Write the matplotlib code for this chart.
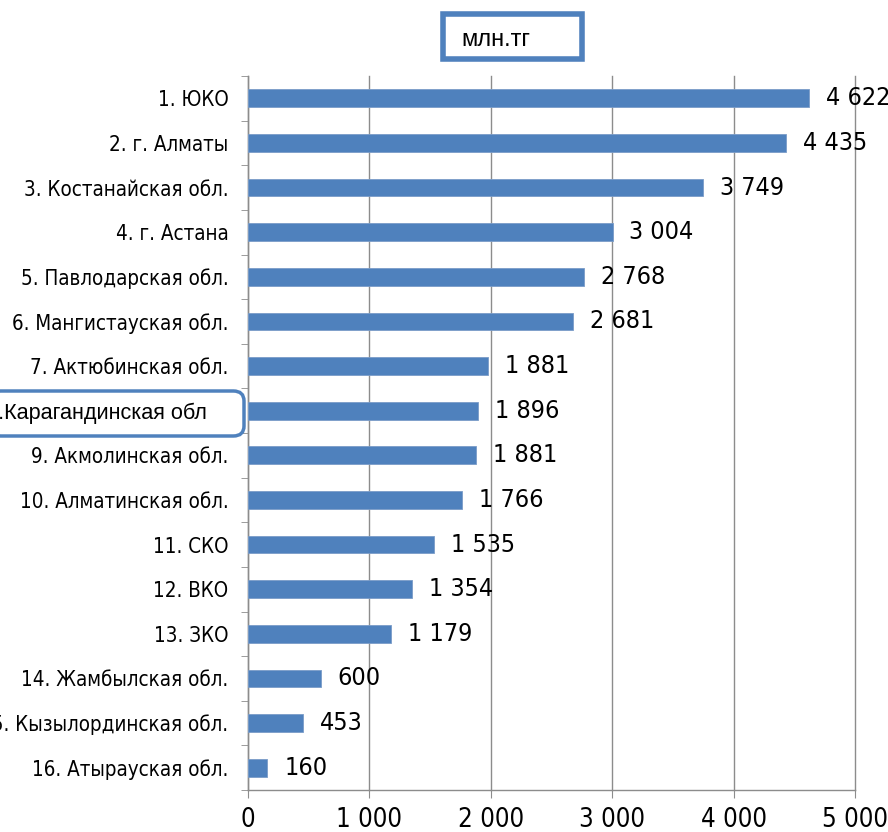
import matplotlib.pyplot as plt
from matplotlib.patches import FancyBboxPatch
from matplotlib.ticker import MultipleLocator, FuncFormatter
import numpy as np

regions = ['1. ЮКО', '2. г. Алматы', '3. Костанайская обл.', '4. г. Астана',
           '5. Павлодарская обл.', '6. Мангистауская обл.', '7. Актюбинская обл.',
           '8.Карагандинская обл', '9. Акмолинская обл.', '10. Алматинская обл.',
           '11. СКО', '12. ВКО', '13. ЗКО', '14. Жамбылская обл.',
           '15. Кызылординская обл.', '16. Атырауская обл.']
# bar lengths as drawn (bar 7 is drawn longer than its label says)
values = [4622, 4435, 3749, 3004, 2768, 2681, 1977, 1896, 1881, 1766,
          1535, 1354, 1179, 600, 453, 160]
value_labels = ['4 622', '4 435', '3 749', '3 004', '2 768', '2 681', '1 881',
                '1 896', '1 881', '1 766', '1 535', '1 354', '1 179', '600',
                '453', '160']
highlight = 7

narrow = dict(family='DejaVu Sans', fontstretch='condensed')
blue = '#4F81BD'
grid_c = '#8c8c8c'

fig = plt.figure(figsize=(8.88, 8.32), dpi=100)
ax = fig.add_axes([248/888, 1-790/832, 607/888, 714/832])

y = np.arange(len(regions))
ax.barh(y, values, height=0.4, color=blue, edgecolor='#7a9cc8', linewidth=0.6, zorder=3)
ax.set_ylim(len(regions)-0.5, -0.5)
ax.set_xlim(0, 5000)

for i, (v, lab) in enumerate(zip(values, value_labels)):
    ax.annotate(lab, (v, i), xytext=(12, 0), textcoords='offset points',
                va='center', ha='left', fontsize=18, zorder=4,
                annotation_clip=False, **narrow)

ax.xaxis.set_major_locator(MultipleLocator(1000))
ax.xaxis.set_major_formatter(FuncFormatter(lambda v, p: f'{int(v):,}'.replace(',', ' ')))
ax.grid(axis='x', color=grid_c, linewidth=1, zorder=0)
ax.set_axisbelow(True)
for gl in ax.get_xgridlines():
    gl.set_clip_on(False)

ax.set_yticks(y)
ax.set_yticklabels(['' if i == highlight else r for i, r in enumerate(regions)],
                   fontsize=14.8, **narrow)
ax.set_yticks(np.arange(-0.5, len(regions)), minor=True)
ax.tick_params(axis='y', which='major', length=0, pad=14)
ax.tick_params(axis='y', which='minor', length=5, color=grid_c, direction='out')
ax.tick_params(axis='x', length=6, color=grid_c, labelsize=18.5, pad=6)
for t in ax.get_xticklabels():
    t.set_family('DejaVu Sans')
    t.set_fontstretch('condensed')

for s in ['top', 'right']:
    ax.spines[s].set_visible(False)
for s in ['left', 'bottom']:
    ax.spines[s].set_color(grid_c)
    ax.spines[s].set_linewidth(1)

# highlighted label 8
box = FancyBboxPatch((-10/888, 1-436/832), 254/888, 45/832,
                     boxstyle='round,pad=0,rounding_size=0.012',
                     transform=fig.transFigure, facecolor='white',
                     edgecolor=blue, linewidth=2.5, zorder=5)
fig.patches.append(box)
fig.text(207/888, 1-413/832, regions[highlight], ha='right', va='center',
         fontsize=15.6, family=['Liberation Sans', 'DejaVu Sans'], zorder=6)

# units box
ubox = FancyBboxPatch((443/888, 1-59/832), 139/888, 45/832,
                      boxstyle='square,pad=0', transform=fig.transFigure,
                      facecolor='white', edgecolor=blue, linewidth=4)
fig.patches.append(ubox)
fig.text(496/888, 1-40/832, 'млн.тг', ha='center', va='center', fontsize=17,
         family=['Liberation Sans', 'DejaVu Sans'])

fig.savefig('out.png', dpi=100)
